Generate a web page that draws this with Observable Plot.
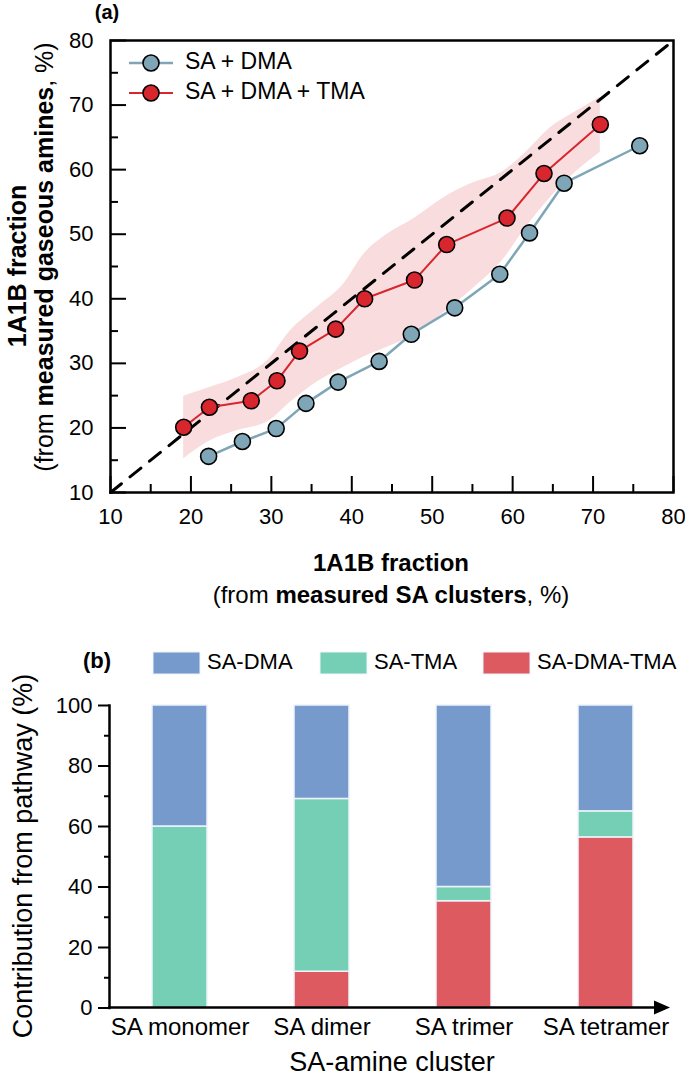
<!DOCTYPE html>
<html><head><meta charset="utf-8">
<script src="https://cdn.jsdelivr.net/npm/d3@7"></script>
<script src="https://cdn.jsdelivr.net/npm/@observablehq/plot@0.6"></script>
<style>
body{margin:0;background:#fff;}
#wrap{position:relative;width:685px;height:1076px;overflow:hidden;font-family:"Liberation Sans",Arial,sans-serif;}
#a{position:absolute;left:0;top:0;}
#b{position:absolute;left:0;top:630px;}
</style></head><body><div id="wrap"><div id="a"></div><div id="b"></div></div>
<script>
// ---------- Panel (a) data ----------
const dmaX = [22.2, 26.4, 30.6, 34.3, 38.3, 43.4, 47.4, 52.8, 58.4, 62.1, 66.4, 75.8];
const dmaY = [15.6, 17.9, 19.9, 23.8, 27.1, 30.3, 34.5, 38.6, 43.8, 50.2, 57.9, 63.7];
const tmaX = [19.1, 22.3, 27.5, 30.7, 33.5, 38.0, 41.6, 47.8, 51.8, 59.3, 63.9, 70.9];
const tmaY = [20.1, 23.2, 24.2, 27.3, 31.9, 35.3, 40.0, 42.9, 48.4, 52.5, 59.4, 67.0];
const bandX    = [19.1, 22.4, 25.8, 29.5, 32.4, 35.7, 39.0, 41.5, 44.4, 47.7, 51.5, 54.8, 58.9, 61.4, 64.7, 68.0, 70.9];
const bandLow  = [15.2, 18.0, 19.6, 20.9, 24.0, 27.1, 29.4, 31.0, 32.5, 34.4, 37.9, 41.3, 46.2, 50.6, 55.7, 59.8, 62.7];
const bandHigh = [24.9, 26.3, 27.8, 30.4, 35.1, 38.7, 42.3, 46.9, 50.0, 52.4, 55.7, 57.8, 59.8, 62.4, 66.5, 69.1, 71.2];
const diag = [10, 80];
const xMajor = [10, 20, 30, 40, 50, 60, 70, 80];
const xMinor = [15, 25, 35, 45, 55, 65, 75];
const yMajor = [10, 20, 30, 40, 50, 60, 70, 80];
const yMinor = [15, 25, 35, 45, 55, 65, 75];
const seriesA = ["SA + DMA", "SA + DMA + TMA"];

// ---------- Panel (b) data ----------
const clusters = ["SA monomer", "SA dimer", "SA trimer", "SA tetramer"];
const pathways = ["SA-DMA", "SA-TMA", "SA-DMA-TMA"];
const saDmaTma = [0, 12.0, 35.3, 56.4];
const saTma    = [60.0, 57.1, 4.7, 8.6];
const saDma    = [40.0, 30.9, 60.0, 35.0];
const yTicksB = [0, 20, 40, 60, 80, 100];
const yMinorB = [10, 30, 50, 70, 90];

const FONT = "'Liberation Sans', Arial, Helvetica, sans-serif";
const cDma = "#7fa6b6", cTma = "#d8262e";
const colorsB = ["#779acd", "#74cfb5", "#de5a61"];

// ---------- Panel (a) ----------
const A = {w: 685, h: 620, ml: 110, mr: 12, mt: 40, mb: 128};
const plotWA = A.w - A.ml - A.mr, plotHA = A.h - A.mt - A.mb;
const dmaData = dmaX.map((x, i) => ({x, y: dmaY[i]}));
const tmaData = tmaX.map((x, i) => ({x, y: tmaY[i]}));
const band = bandX.map((x, i) => ({x, lo: bandLow[i], hi: bandHigh[i]}));

const chartA = Plot.plot({
  width: A.w, height: A.h, marginLeft: A.ml, marginRight: A.mr, marginTop: A.mt, marginBottom: A.mb,
  style: {fontFamily: FONT, fontSize: "22px", color: "black", background: "white", overflow: "visible"},
  x: {domain: [10, 80]},
  y: {domain: [10, 80]},
  marks: [
    Plot.areaY(band, {x: "x", y1: "lo", y2: "hi", fill: "#f9dcdd", curve: "monotone-x"}),
    Plot.line(diag, {x: d => d, y: d => d, stroke: "black", strokeWidth: 3, strokeDasharray: "14,11"}),
    Plot.line(dmaData, {x: "x", y: "y", stroke: cDma, strokeWidth: 2.5}),
    Plot.line(tmaData, {x: "x", y: "y", stroke: cTma, strokeWidth: 2}),
    Plot.dot(dmaData, {x: "x", y: "y", r: 8, fill: cDma, stroke: "black", strokeWidth: 1.6}),
    Plot.dot(tmaData, {x: "x", y: "y", r: 8, fill: cTma, stroke: "black", strokeWidth: 1.6}),
    Plot.tickX(xMajor, {x: d => d, insetTop: plotHA - 16, stroke: "black", strokeWidth: 2}),
    Plot.tickX(xMinor, {x: d => d, insetTop: plotHA - 8, stroke: "black", strokeWidth: 2}),
    Plot.tickY(yMajor, {y: d => d, insetRight: plotWA - 16, stroke: "black", strokeWidth: 2}),
    Plot.tickY(yMinor, {y: d => d, insetRight: plotWA - 8, stroke: "black", strokeWidth: 2}),
    Plot.axisX(xMajor, {tickSize: 0, tickPadding: 16, label: null, fontSize: 22}),
    Plot.axisY(yMajor, {tickSize: 0, tickPadding: 17, label: null, fontSize: 22}),
    Plot.frame({stroke: "black", strokeWidth: 2.5})
  ]
});
document.getElementById("a").appendChild(chartA);
{
  const s = d3.select(chartA);
  s.append("text").attr("x", 107).attr("y", 14).attr("text-anchor", "middle").attr("dominant-baseline", "middle")
    .attr("font-weight", "bold").attr("font-size", 20).attr("fill", "black").text("(a)");
  // legend
  const legColors = [cDma, cTma];
  seriesA.forEach((name, i) => {
    const y = 63 + 30 * i;
    s.append("line").attr("x1", 129).attr("x2", 173).attr("y1", y).attr("y2", y)
      .attr("stroke", legColors[i]).attr("stroke-width", i ? 2 : 2.5);
    s.append("circle").attr("cx", 151).attr("cy", y).attr("r", 8).attr("fill", legColors[i])
      .attr("stroke", "black").attr("stroke-width", 1.6);
    s.append("text").attr("x", 185).attr("y", y).attr("text-anchor", "start").attr("dominant-baseline", "middle")
      .attr("font-size", 23).attr("fill", "black").text(name);
  });
  // x title
  s.append("text").attr("x", 391).attr("y", 565).attr("text-anchor", "middle").attr("dominant-baseline", "middle")
    .attr("font-weight", "bold").attr("font-size", 24).attr("fill", "black").text("1A1B fraction");
  const t2 = s.append("text").attr("x", 391).attr("y", 597).attr("text-anchor", "middle").attr("dominant-baseline", "middle")
    .attr("font-size", 24).attr("fill", "black");
  t2.append("tspan").text("(from ");
  t2.append("tspan").attr("font-weight", "bold").text("measured SA clusters");
  t2.append("tspan").text(", %)");
  // y title
  s.append("text").attr("transform", "translate(19,266) rotate(-90)").attr("text-anchor", "middle").attr("dominant-baseline", "middle")
    .attr("font-weight", "bold").attr("font-size", 25).attr("fill", "black").text("1A1B fraction");
  const t3 = s.append("text").attr("transform", "translate(46,257) rotate(-90)").attr("text-anchor", "middle").attr("dominant-baseline", "middle")
    .attr("font-size", 25).attr("fill", "black");
  t3.append("tspan").text("(from ");
  t3.append("tspan").attr("font-weight", "bold").text("measured gaseous amines");
  t3.append("tspan").text(", %)");
}

// ---------- Panel (b) ----------
const rows = [];
clusters.forEach((c, i) => {
  rows.push({cluster: c, pathway: "SA-DMA-TMA", value: saDmaTma[i]});
  rows.push({cluster: c, pathway: "SA-TMA", value: saTma[i]});
  rows.push({cluster: c, pathway: "SA-DMA", value: saDma[i]});
});
const B = {w: 685, h: 446, ml: 109, mr: 17, mt: 75, mb: 68.5};
const chartB = Plot.plot({
  width: B.w, height: B.h, marginLeft: B.ml, marginRight: B.mr, marginTop: B.mt, marginBottom: B.mb,
  style: {fontFamily: FONT, fontSize: "22px", color: "black", background: "white", overflow: "visible"},
  x: {domain: clusters, paddingInner: 0.613, paddingOuter: 0.271, align: 0.545},
  y: {domain: [0, 100]},
  color: {domain: pathways, range: colorsB},
  marks: [
    Plot.barY(rows, {x: "cluster", y: "value", fill: "pathway", stroke: "#eef3fb", strokeWidth: 1.5}),
    Plot.axisY(yTicksB, {tickSize: 11, tickPadding: 6, label: null, fontSize: 22, strokeWidth: 2}),
    Plot.axisY(yMinorB, {tickSize: 5, tickFormat: () => "", label: null, strokeWidth: 2}),
    Plot.axisX({tickSize: 0, tickPadding: 10, label: null, fontSize: 24}),
    Plot.frame({anchor: "left", stroke: "black", strokeWidth: 2.5})
  ]
});
document.getElementById("b").appendChild(chartB);
{
  const s = d3.select(chartB);
  const y0 = chartB.scale("y").apply(0);
  const xr = B.w - B.mr + 2;
  s.append("line").attr("x1", B.ml - 1).attr("x2", xr - 12).attr("y1", y0).attr("y2", y0)
    .attr("stroke", "black").attr("stroke-width", 2.5);
  s.append("path").attr("d", `M${xr},${y0} L${xr - 16},${y0 - 7} L${xr - 16},${y0 + 7} Z`).attr("fill", "black");
  // (b) and legend
  s.append("text").attr("x", 97).attr("y", 32).attr("text-anchor", "middle").attr("dominant-baseline", "middle")
    .attr("font-weight", "bold").attr("font-size", 22).attr("fill", "black").text("(b)");
  const legX = [153, 320, 483];
  pathways.forEach((p, i) => {
    s.append("rect").attr("x", legX[i]).attr("y", 22).attr("width", 47).attr("height", 22)
      .attr("fill", colorsB[i]).attr("stroke", "#eef3fb").attr("stroke-width", 1);
    s.append("text").attr("x", legX[i] + 54).attr("y", 33).attr("text-anchor", "start").attr("dominant-baseline", "middle")
      .attr("font-size", 22).attr("fill", "black").text(p);
  });
  // titles
  s.append("text").attr("x", 392).attr("y", 434).attr("text-anchor", "middle").attr("dominant-baseline", "middle")
    .attr("font-size", 27).attr("fill", "black").text("SA-amine cluster");
  s.append("text").attr("transform", "translate(25,226) rotate(-90)").attr("text-anchor", "middle").attr("dominant-baseline", "middle")
    .attr("font-size", 27).attr("fill", "black").text("Contribution from pathway (%)");
}
</script></body></html>
